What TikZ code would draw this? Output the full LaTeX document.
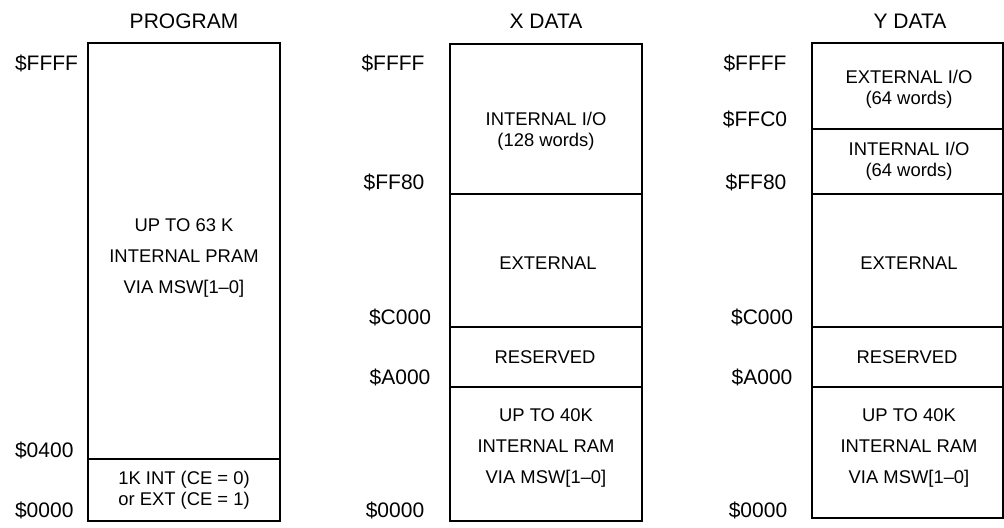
\documentclass[tikz,border=0pt]{standalone}
\usepackage{fontspec}
\setmainfont{Liberation Sans}
\usetikzlibrary{positioning}

\begin{document}
\begin{tikzpicture}[x=0.5pt, y=-0.5pt,
    region/.style={draw, line width=1pt},
    title/.style={font=\fontsize{10.5}{12}\selectfont},
    addr/.style={font=\fontsize{10.5}{12}\selectfont},
    inside/.style={font=\fontsize{9.2}{15.5}\selectfont, align=center},
    insidetight/.style={font=\fontsize{9.2}{10.5}\selectfont, align=center}]
  \useasboundingbox (0,0) rectangle (1004,527);

  % Titles of the three spaces
  \node[title] (progTitle) at (184,21) {PROGRAM};
  \node[title] (xTitle) at (546,21) {X DATA};
  \node[title] (yTitle) at (910,21) {Y DATA};

  % Program memory
  \draw[region] (88,43) rectangle (280,521);
  \draw[region] (88,459) -- (280,459);
  \node[inside] (progPram) at (184,258) {UP TO 63 K\\INTERNAL PRAM\\VIA MSW[1--0]};
  \node[insidetight] (progBoot) at (184,490) {1K INT (CE = 0)\\or EXT (CE = 1)};
  \foreach \yy/\name/\txt in {63/progFFFF/FFFF, 450/prog0400/0400, 510/prog0000/0000} {
    \node[addr, anchor=west] (\name) at (8,\yy) {\$\txt};
  }

  % X data memory
  \draw[region] (450,44) rectangle (642,521);
  \foreach \yy in {194, 327, 387} {
    \draw[region] (450,\yy) -- (642,\yy);
  }
  \node[insidetight] (xIntIO) at (546,131) {INTERNAL I/O\\(128 words)};
  \node[inside] (xExt) at (548,263) {EXTERNAL};
  \node[inside] (xRes) at (545,357) {RESERVED};
  \node[inside] (xRam) at (546,448) {UP TO 40K\\INTERNAL RAM\\VIA MSW[1--0]};
  \foreach \xx/\yy/\name/\txt in {393/63/xFFFF/FFFF, 394/182/xFF80/FF80,
      400/317/xC000/C000, 400/377/xA000/A000, 395/510/x0000/0000} {
    \node[addr] (\name) at (\xx,\yy) {\$\txt};
  }

  % Y data memory
  \draw[region] (812,43) rectangle (1003,518);
  \foreach \yy in {129, 194, 327, 387} {
    \draw[region] (812,\yy) -- (1003,\yy);
  }
  \node[insidetight] (yExtIO) at (909,89) {EXTERNAL I/O\\(64 words)};
  \node[insidetight] (yIntIO) at (909,161) {INTERNAL I/O\\(64 words)};
  \node[inside] (yExt) at (909,263) {EXTERNAL};
  \node[inside] (yRes) at (907,357) {RESERVED};
  \node[inside] (yRam) at (909,448) {UP TO 40K\\INTERNAL RAM\\VIA MSW[1--0]};
  \foreach \xx/\yy/\name/\txt in {755/63/yFFFF/FFFF, 755/119/yFFC0/FFC0,
      756/182/yFF80/FF80, 762/317/yC000/C000, 762/377/yA000/A000,
      758/510/y0000/0000} {
    \node[addr] (\name) at (\xx,\yy) {\$\txt};
  }
\end{tikzpicture}
\end{document}
